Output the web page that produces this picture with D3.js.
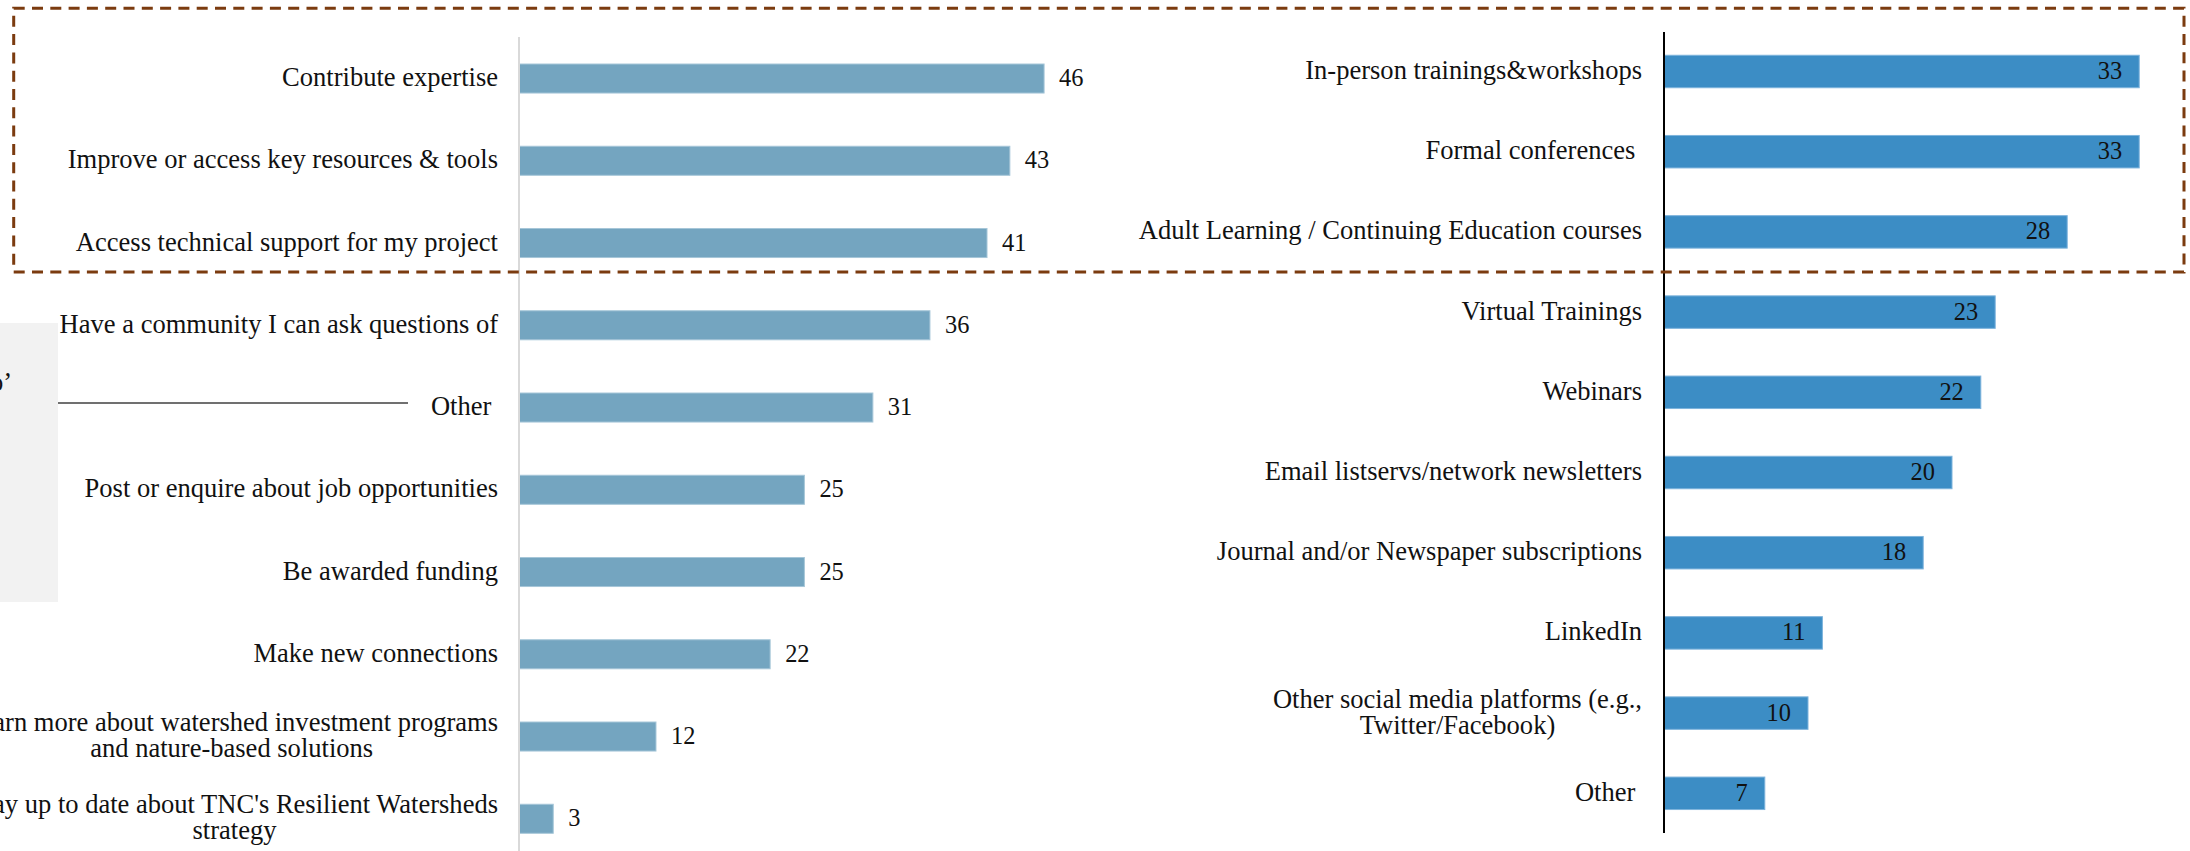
<!DOCTYPE html>
<html>
<head>
<meta charset="utf-8">
<script src="https://cdn.jsdelivr.net/npm/d3@7"></script>
<style>
  html, body { margin: 0; padding: 0; background: #ffffff; overflow: hidden; }
  svg text { white-space: pre; }
</style>
</head>
<body>
<svg id="chart" width="2190" height="851"></svg>
<script>
// ---------- data ----------
const leftCategories = [
  "Contribute expertise",
  "Improve or access key resources & tools",
  "Access technical support for my project",
  "Have a community I can ask questions of",
  "Other ",
  "Post or enquire about job opportunities",
  "Be awarded funding",
  "Make new connections",
  "Learn more about watershed investment programs\nand nature-based solutions",
  "Stay up to date about TNC's Resilient Watersheds\nstrategy"
];
const leftValues = [46, 43, 41, 36, 31, 25, 25, 22, 12, 3];

const rightCategories = [
  "In-person trainings&workshops",
  "Formal conferences ",
  "Adult Learning / Continuing Education courses",
  "Virtual Trainings",
  "Webinars",
  "Email listservs/network newsletters",
  "Journal and/or Newspaper subscriptions",
  "LinkedIn",
  "Other social media platforms (e.g.,\nTwitter/Facebook)",
  "Other "
];
const rightValues = [33, 33, 28, 23, 22, 20, 18, 11, 10, 7];

const strayText = "o\u2019";

// ---------- setup ----------
const svg = d3.select("#chart");
const FONT = "'Liberation Serif', 'DejaVu Serif', serif";

// fit font size so that a reference label has the reference width
const probe = svg.append("text").attr("font-family", FONT).attr("font-size", 100).text("Contribute expertise");
const probeW = probe.node().getComputedTextLength();
probe.remove();
const FS = 100 * 216 / probeW;
const LH = 26;

// decoration: grey panel, stray line and text
svg.append("rect").attr("x", -5).attr("y", 323).attr("width", 63).attr("height", 279).attr("fill", "#f2f2f2");
svg.append("line").attr("x1", 58).attr("x2", 408).attr("y1", 403).attr("y2", 403)
  .attr("stroke", "#404040").attr("stroke-width", 1.5);
svg.append("text").attr("x", 12).attr("y", 391).attr("text-anchor", "end")
  .attr("font-family", FONT).attr("font-size", FS).attr("fill", "#111").text(strayText);

function drawPanel(opts) {
  const { cats, vals, axisX, pxPerUnit, maxDomain, yRange, padInner, fill, stroke, axisColor, axisTop, axisBottom, labelRight, valueInside, valueOffset } = opts;
  const g = svg.append("g");
  const x = d3.scaleLinear().domain([0, maxDomain]).range([axisX, axisX + maxDomain * pxPerUnit]);
  const y = d3.scaleBand().domain(cats).range(yRange).paddingInner(padInner).paddingOuter(padInner / 2);

  g.selectAll("rect.bar").data(cats).join("rect")
    .attr("class", "bar")
    .attr("x", x(0))
    .attr("y", d => y(d))
    .attr("width", (d, i) => x(vals[i]) - x(0))
    .attr("height", y.bandwidth())
    .attr("fill", fill)
    .attr("stroke", stroke)
    .attr("stroke-width", 1);

  // axis line (category axis, no ticks)
  const axis = d3.axisLeft(y).tickSize(0).tickFormat("");
  const ag = g.append("g").attr("transform", `translate(${axisX},0)`).call(axis);
  ag.select(".domain").attr("stroke", axisColor.color).attr("stroke-width", axisColor.width)
    .attr("d", `M0,${axisTop}V${axisBottom}`);

  // category labels
  cats.forEach((c, i) => {
    const lines = c.split("\n");
    const cy = y(c) + y.bandwidth() / 2;
    const t = g.append("text").attr("font-family", FONT).attr("font-size", FS).attr("fill", "#111")
      .attr("xml:space", "preserve");
    const spans = lines.map((ln, k) => t.append("tspan").text(ln));
    const widths = spans.map(s => s.node().getComputedTextLength());
    const maxW = Math.max(...widths);
    const base = cy + 7.5 - (lines.length - 1) * LH / 2;
    spans.forEach((s, k) => {
      s.attr("x", labelRight - maxW / 2).attr("y", base + k * LH).attr("text-anchor", "middle");
    });
  });

  // value labels
  g.selectAll("text.val").data(cats).join("text")
    .attr("class", "val")
    .attr("font-family", FONT).attr("font-size", FS * 0.92).attr("fill", "#111")
    .attr("x", (d, i) => valueInside ? x(vals[i]) - valueOffset : x(vals[i]) + valueOffset)
    .attr("y", d => y(d) + y.bandwidth() / 2 + 7.5)
    .attr("text-anchor", valueInside ? "end" : "start")
    .text((d, i) => vals[i]);
}

drawPanel({
  cats: leftCategories, vals: leftValues,
  axisX: 519, pxPerUnit: 11.415, maxDomain: 50,
  yRange: [37.4, 37.4 + 10 * 82.25], padInner: 0.647,
  fill: "#74a5c0", stroke: "#a6c6d8",
  axisColor: { color: "#d9d9d9", width: 2 }, axisTop: 37, axisBottom: 851,
  labelRight: 498, valueInside: false, valueOffset: 15
});

drawPanel({
  cats: rightCategories, vals: rightValues,
  axisX: 1664, pxPerUnit: 14.4, maxDomain: 35,
  yRange: [31.4, 31.4 + 10 * 80.2], padInner: 0.595,
  fill: "#3c8dc5", stroke: "#7db3dc",
  axisColor: { color: "#000000", width: 2 }, axisTop: 32, axisBottom: 833,
  labelRight: 1642, valueInside: true, valueOffset: 17
});

// dashed highlight box
svg.append("rect")
  .attr("x", 13.7).attr("y", 8.3).attr("width", 2184 - 13.7).attr("height", 272 - 8.3)
  .attr("fill", "none").attr("stroke", "#7b3b0f").attr("stroke-width", 3)
  .attr("stroke-dasharray", "11 7.3");
</script>
</body>
</html>
